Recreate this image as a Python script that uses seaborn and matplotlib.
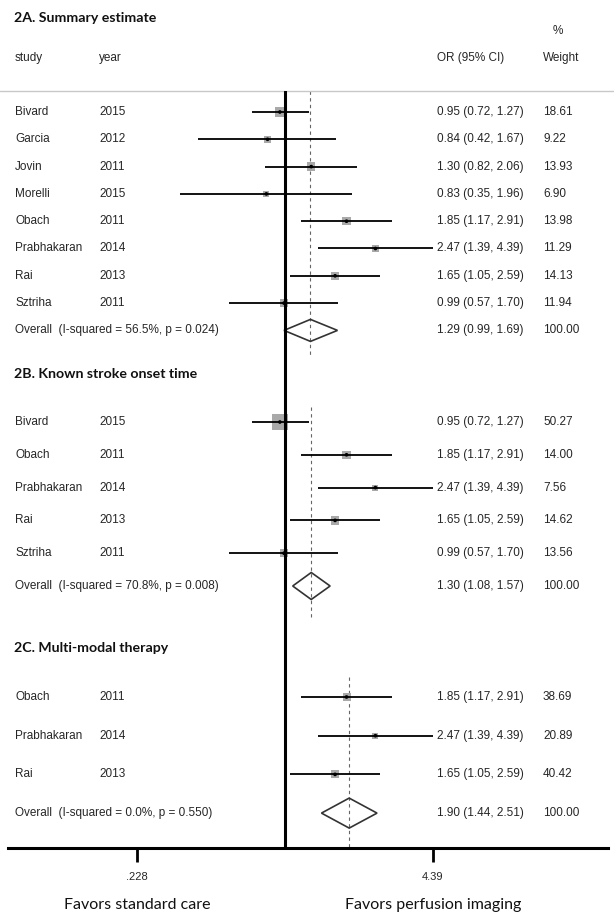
import numpy as np
import pandas as pd
import matplotlib
matplotlib.use('Agg')
import matplotlib.pyplot as plt
import matplotlib.transforms as mtrans
from matplotlib.patches import Polygon
import seaborn as sns

# ---- data -------------------------------------------------------------
a_study = ['Bivard', 'Garcia', 'Jovin', 'Morelli', 'Obach', 'Prabhakaran', 'Rai', 'Sztriha']
a_year = [2015, 2012, 2011, 2015, 2011, 2014, 2013, 2011]
a_or = [0.95, 0.84, 1.30, 0.83, 1.85, 2.47, 1.65, 0.99]
a_lo = [0.72, 0.42, 0.82, 0.35, 1.17, 1.39, 1.05, 0.57]
a_hi = [1.27, 1.67, 2.06, 1.96, 2.91, 4.39, 2.59, 1.70]
a_wt = [18.61, 9.22, 13.93, 6.90, 13.98, 11.29, 14.13, 11.94]
a_overall = [1.29, 0.99, 1.69]
a_het = (56.5, 0.024)

b_study = ['Bivard', 'Obach', 'Prabhakaran', 'Rai', 'Sztriha']
b_year = [2015, 2011, 2014, 2013, 2011]
b_or = [0.95, 1.85, 2.47, 1.65, 0.99]
b_lo = [0.72, 1.17, 1.39, 1.05, 0.57]
b_hi = [1.27, 2.91, 4.39, 2.59, 1.70]
b_wt = [50.27, 14.00, 7.56, 14.62, 13.56]
b_overall = [1.30, 1.08, 1.57]
b_het = (70.8, 0.008)

c_study = ['Obach', 'Prabhakaran', 'Rai']
c_year = [2011, 2014, 2013]
c_or = [1.85, 2.47, 1.65]
c_lo = [1.17, 1.39, 1.05]
c_hi = [2.91, 4.39, 2.59]
c_wt = [38.69, 20.89, 40.42]
c_overall = [1.90, 1.44, 2.51]
c_het = (0.0, 0.550)

titles = ['2A. Summary estimate', '2B. Known stroke onset time', '2C. Multi-modal therapy']
tick_vals = [0.228, 4.39]
tick_labels = ['.228', '4.39']
favors = ['Favors standard care', 'Favors perfusion imaging']

# ---- layout (pixel rows, y grows downward) -----------------------------
W, H = 614, 918
ax_left, ax_right, ax_top, ax_bottom = 8, 608, 91, 848
panels = [
    dict(study=a_study, year=a_year, est=a_or, lo=a_lo, hi=a_hi, wt=a_wt, ov=a_overall, het=a_het,
         title_y=18, first=112, step=27.3, box=2.6, dh=11, dash=(91, 355)),
    dict(study=b_study, year=b_year, est=b_or, lo=b_lo, hi=b_hi, wt=b_wt, ov=b_overall, het=b_het,
         title_y=374, first=422, step=32.8, box=2.45, dh=13.5, dash=(407, 620)),
    dict(study=c_study, year=c_year, est=c_or, lo=c_lo, hi=c_hi, wt=c_wt, ov=c_overall, het=c_het,
         title_y=648, first=697, step=38.7, box=0.85, dh=15, dash=(677, 848)),
]

sns.set_theme(style='white')
plt.rcParams['font.family'] = ['Liberation Sans', 'DejaVu Sans']

fig = plt.figure(figsize=(W / 100, H / 100), dpi=100)
ax = fig.add_axes([ax_left / W, 1 - ax_bottom / H, (ax_right - ax_left) / W, (ax_bottom - ax_top) / H])
ax.set_xscale('log')
ax.set_xlim(np.exp((ax_left - 285) / 100), np.exp((ax_right - 285) / 100))
ax.set_ylim(ax_bottom, ax_top)

col = mtrans.blended_transform_factory(ax.transAxes, ax.transData)


def fx(px):
    return (px - ax_left) / (ax_right - ax_left)


txt_size = 8.5
title_font = dict(family=['Lato', 'DejaVu Sans'], fontweight='bold', fontsize=10.2, color='#111111')

# header
ax.text(fx(553), 31, '%', transform=col, fontsize=txt_size, va='center', ha='left')
for x, s in [(15, 'study'), (99, 'year'), (437, 'OR (95% CI)'), (543, 'Weight')]:
    ax.text(fx(x), 58, s, transform=col, fontsize=txt_size, va='center', ha='left')
ax.plot([fx(0), fx(W)], [ax_top, ax_top], transform=col, color='#c8c8c8', lw=1, clip_on=False)

for p, t in zip(panels, titles):
    n = len(p['study'])
    ys = [p['first'] + i * p['step'] for i in range(n + 1)]
    df = pd.DataFrame(dict(study=p['study'], year=p['year'], est=p['est'], lo=p['lo'],
                           hi=p['hi'], wt=p['wt'], y=ys[:n]))
    ax.text(fx(14), p['title_y'], t, transform=col, va='center', ha='left', **title_font)
    # CI lines
    ax.hlines(df['y'], df['lo'], df['hi'], color='black', lw=1.3, zorder=3)
    # weight boxes
    wmax = max(p['wt'])
    sns.scatterplot(data=df, x='est', y='y', size='wt', sizes=(0, p['box'] * wmax),
                    size_norm=(0, wmax), marker='s', color='#a9a9a9', edgecolor='none',
                    legend=False, ax=ax, zorder=2)
    sns.scatterplot(data=df, x='est', y='y', s=7, color='black', edgecolor='none',
                    legend=False, ax=ax, zorder=4)
    # overall diamond
    ov, lo, hi = p['ov']
    yo = ys[-1]
    ax.add_patch(Polygon([(lo, yo), (ov, yo - p['dh']), (hi, yo), (ov, yo + p['dh'])],
                         closed=True, fill=False, edgecolor='#333333', lw=1.2, zorder=3))
    ax.plot([ov, ov], p['dash'], color='#666666', lw=0.8, ls=(0, (3, 3)), zorder=1)
    # text columns
    for _, r in df.iterrows():
        ax.text(fx(15), r['y'], r['study'], transform=col, fontsize=txt_size, va='center')
        ax.text(fx(99), r['y'], str(r['year']), transform=col, fontsize=txt_size, va='center')
        ax.text(fx(437), r['y'], f"{r['est']:.2f} ({r['lo']:.2f}, {r['hi']:.2f})",
                transform=col, fontsize=txt_size, va='center')
        ax.text(fx(543), r['y'], f"{r['wt']:.2f}", transform=col, fontsize=txt_size, va='center')
    i2, pv = p['het']
    ax.text(fx(15), yo, f"Overall  (I-squared = {i2:.1f}%, p = {pv:.3f})", transform=col,
            fontsize=txt_size, va='center')
    ax.text(fx(437), yo, f"{ov:.2f} ({lo:.2f}, {hi:.2f})", transform=col, fontsize=txt_size, va='center')
    ax.text(fx(543), yo, '100.00', transform=col, fontsize=txt_size, va='center')

ax.axvline(1, color='black', lw=2.2, zorder=5)

# axis
for s in ['top', 'left', 'right']:
    ax.spines[s].set_visible(False)
ax.spines['bottom'].set_color('black')
ax.spines['bottom'].set_linewidth(2.2)
ax.set_yticks([])
ax.set_xticks(tick_vals)
ax.set_xticklabels(tick_labels)
ax.xaxis.set_minor_locator(matplotlib.ticker.NullLocator())
ax.tick_params(axis='x', direction='out', length=10, width=2, color='black',
               labelsize=8, pad=7, bottom=True)
ax.set_xlabel('')
ax.set_ylabel('')
for x, s in zip(tick_vals, favors):
    ax.text(x, 905, s, ha='center', va='center', fontsize=11.5,
            family=['Lato', 'DejaVu Sans'], color='#111111')

fig.savefig('out.png', dpi=100, facecolor='white')
